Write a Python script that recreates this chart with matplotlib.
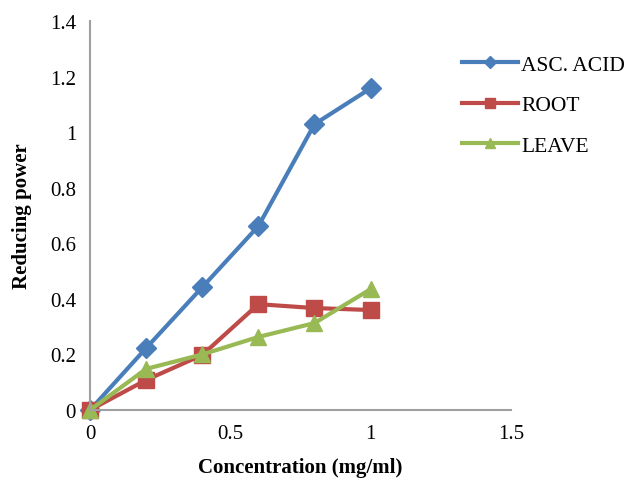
import matplotlib.pyplot as plt

plt.rcParams['font.family'] = ['Liberation Serif', 'DejaVu Serif']

conc = [0, 0.2, 0.4, 0.6, 0.8, 1.0]
asc_acid = [0, 0.223, 0.442, 0.662, 1.029, 1.158]
root = [0, 0.108, 0.198, 0.381, 0.367, 0.360]
leave = [0, 0.148, 0.200, 0.263, 0.313, 0.435]

x_ticks = [0, 0.5, 1, 1.5]
x_labels = ['0', '0.5', '1', '1.5']
y_ticks = [0, 0.2, 0.4, 0.6, 0.8, 1.0, 1.2, 1.4]
y_labels = ['0', '0.2', '0.4', '0.6', '0.8', '1', '1.2', '1.4']

fig = plt.figure(figsize=(6.32, 4.81), dpi=100)
ax = fig.add_axes([0.1424, 0.1455, 0.666, 0.8085])

ax.plot(conc, asc_acid, color='#4A7EBB', lw=3, marker='D', ms=10, label='ASC. ACID', clip_on=False)
ax.plot(conc, root, color='#BE4B48', lw=3, marker='s', ms=11, label='ROOT', clip_on=False)
ax.plot(conc, leave, color='#98B954', lw=3, marker='^', ms=12, label='LEAVE', clip_on=False)

ax.set_xlim(0, 1.5)
ax.set_ylim(0, 1.4)
ax.set_xticks(x_ticks)
ax.set_xticklabels(x_labels)
ax.set_yticks(y_ticks)
ax.set_yticklabels(y_labels)
ax.tick_params(length=0, labelsize=15, pad=10)

for s in ['top', 'right']:
    ax.spines[s].set_visible(False)
for s in ['left', 'bottom']:
    ax.spines[s].set_color('#A0A0A0')
    ax.spines[s].set_linewidth(1.5)

ax.set_xlabel('Concentration (mg/ml)', fontsize=15, fontweight='bold', labelpad=10)
ax.set_ylabel('Reducing power', fontsize=15, fontweight='bold', labelpad=13)

ax.legend(loc='upper left', bbox_to_anchor=(0.70, 0.925), bbox_transform=fig.transFigure,
          frameon=False, fontsize=15.5, markerscale=0.6, handlelength=2.6,
          handletextpad=0.15, labelspacing=0.95)

fig.savefig('out.png', dpi=100)
